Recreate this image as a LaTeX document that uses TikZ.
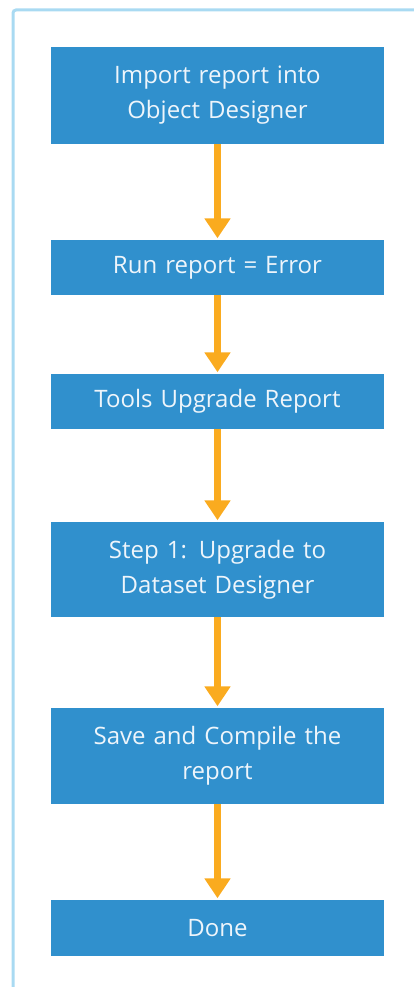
\documentclass[tikz,border=0pt]{standalone}
\usepackage{fontspec}
\setmainfont{Open Sans}
\usepackage{xcolor}
\usetikzlibrary{arrows.meta}
\definecolor{boxblue}{HTML}{3090CD}
\definecolor{flowamber}{HTML}{FAAB1F}
\definecolor{framesky}{HTML}{A9DAF2}
\definecolor{labelwhite}{HTML}{EEF5FB}
\tikzset{stepbox/.style={rectangle, fill=boxblue, text=labelwhite, inner sep=0pt,
    minimum width=333pt, text width=325pt, align=center,
    font=\fontsize{24}{35}\selectfont},
  flow/.style={draw=flowamber, line width=7pt,
    -{Triangle[width=25pt,length=20pt]}, shorten >=1.5pt}}

\begin{document}
\begin{tikzpicture}[x=1pt, y=-1pt]
		\useasboundingbox (0,0) rectangle (414,987);
		\draw[framesky, line width=3pt, rounded corners=3pt] (414,10) -- (13,10) -- (13,990);
		\node[stepbox, minimum height=97pt] (import) at (217.5,95.5) {Import report into\\Object Designer};
		\node[stepbox, minimum height=55pt] (run) at (217.5,267.5) {Run report = Error};
		\node[stepbox, minimum height=55pt] (tools) at (217.5,401.5) {Tools Upgrade Report};
		\node[stepbox, minimum height=95pt] (upgrade) at (217.5,569.5) {Step 1: Upgrade to\\Dataset Designer};
		\node[stepbox, minimum height=96pt] (save) at (217.5,756) {Save and Compile the\\report};
		\node[stepbox, minimum height=56pt] (done) at (217.5,928) {Done};
		\foreach \a/\b in {import/run, run/tools, tools/upgrade, upgrade/save, save/done} {
			\draw[flow] (\a) -- (\b);
		}
	\end{tikzpicture}
\end{document}
